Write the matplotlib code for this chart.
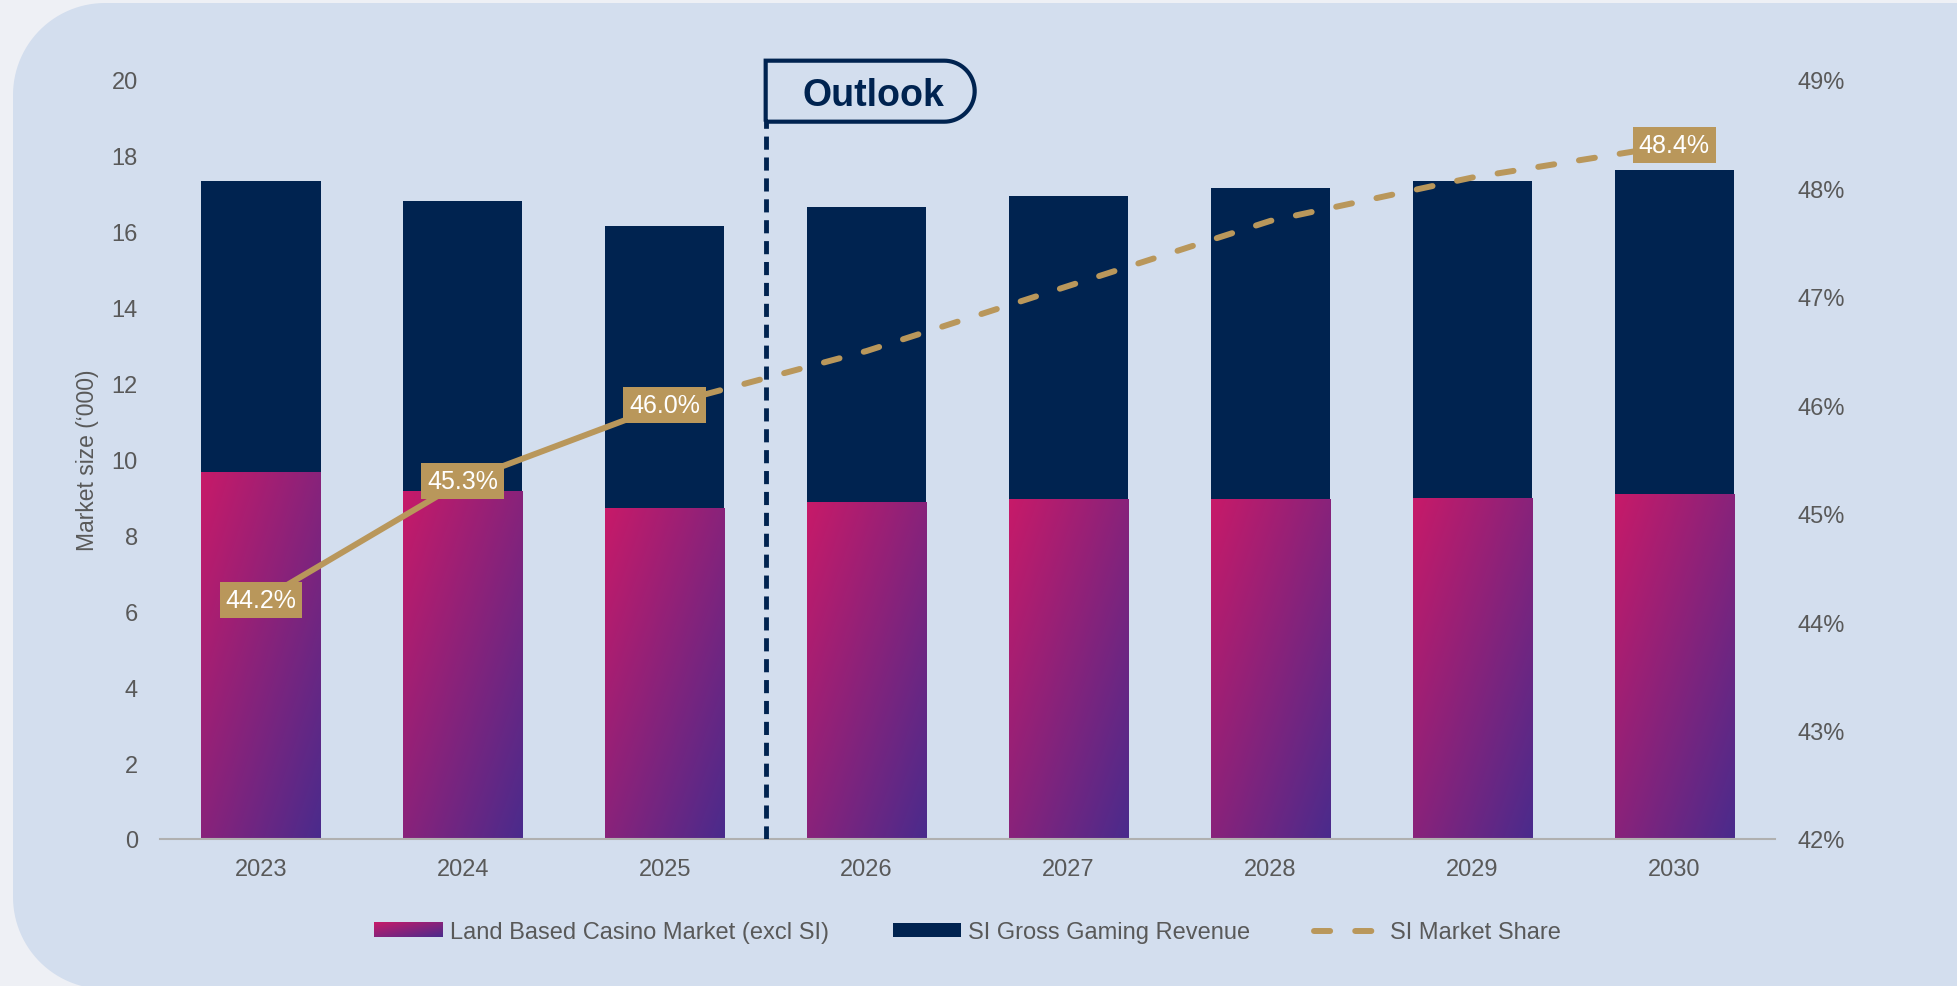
import numpy as np
import matplotlib
matplotlib.use("Agg")
import matplotlib.pyplot as plt
import matplotlib.patches as mpatches
from matplotlib.lines import Line2D
from matplotlib.path import Path
from matplotlib.colors import LinearSegmentedColormap
from matplotlib.image import BboxImage
from matplotlib.transforms import Bbox, TransformedBbox, IdentityTransform, ScaledTranslation
from matplotlib.legend_handler import HandlerBase

plt.rcParams['font.family'] = ['Liberation Sans', 'DejaVu Sans']

# data
years = ['2023', '2024', '2025', '2026', '2027', '2028', '2029', '2030']
land_based = [9.66, 9.18, 8.72, 8.88, 8.95, 8.95, 8.98, 9.08]
si_ggr = [7.68, 7.63, 7.43, 7.76, 7.99, 8.19, 8.36, 8.55]
si_share = [44.2, 45.3, 46.0, 46.5, 47.1, 47.7, 48.1, 48.4]
labelled = [0, 1, 2, 7]
n_actual = 3  # 2023-2025 actual, rest outlook

navy = '#002350'
gold = '#b9975b'
grey = '#595959'
panel = '#d3deee'
grad = LinearSegmentedColormap.from_list('grad', ['#c71a69', '#4a2b8c'])

# diagonal gradient: top-left -> bottom-right
gx, gy = np.meshgrid(np.linspace(0, 1, 64), np.linspace(0, 1, 256))
grad_img = grad(0.5 * gx + 0.5 * gy)

fig = plt.figure(figsize=(19.57, 9.87), dpi=100, facecolor='#eef0f5')


def rounded_left(x0, y0, x1, y1, rad):
    # rounded on the left side only (pixel coords)
    a1 = np.linspace(np.pi / 2, np.pi, 30)
    a2 = np.linspace(np.pi, 1.5 * np.pi, 30)
    v = [(x1, y1), (x0 + rad, y1)]
    v += [(x0 + rad + rad * np.cos(a), y1 - rad + rad * np.sin(a)) for a in a1]
    v += [(x0 + rad + rad * np.cos(a), y0 + rad + rad * np.sin(a)) for a in a2]
    v += [(x1, y0), (x1, y1)]
    return Path(v)


bg = mpatches.PathPatch(rounded_left(13, -3, 2300, 983, 92), transform=IdentityTransform(),
                        facecolor=panel, edgecolor='none', zorder=-10)
fig.patches.append(bg)

ax = fig.add_axes([0.0818, 0.149, 0.8252, 0.769])
ax.set_facecolor('none')
x = np.arange(len(years))
bars = ax.bar(x, land_based, width=0.59, color='none', zorder=2)
for b in bars:
    x0, w, h = b.get_x(), b.get_width(), b.get_height()
    im = ax.imshow(grad_img, extent=(x0, x0 + w, 0, h), aspect='auto', origin='upper',
                   interpolation='bilinear', zorder=2)
    im.set_clip_path(b)
ax.bar(x, si_ggr, bottom=land_based, width=0.59, color=navy, zorder=2)

ax.set_xlim(-0.5, len(years) - 0.5)
ax.set_ylim(0, 20)
ax.set_yticks(range(0, 21, 2))
ax.set_xticks(x, years)
for s in ['top', 'left', 'right']:
    ax.spines[s].set_visible(False)
ax.spines['bottom'].set_color('#b0b0b0')
ax.spines['bottom'].set_linewidth(1.5)
ax.tick_params(axis='both', length=0, labelsize=17, labelcolor=grey)
ax.tick_params(axis='y', pad=16)
ax.tick_params(axis='x', pad=14)
ax.set_ylabel("Market size (\u2018000)", fontsize=16.5, color=grey, labelpad=9)

# outlook marker
split = n_actual - 0.5
ax.plot([split, split], [0, 18.95], color=navy, lw=3.5, ls=(0, (2.7, 1.6)), zorder=3)
w_in, h_in = 2.09, 0.61
r = h_in / 2
ang = np.linspace(-np.pi / 2, np.pi / 2, 40)
verts = [(0, 0), (w_in - r, 0)] + [(w_in - r + r * np.cos(a), r + r * np.sin(a)) for a in ang] + [(0, h_in), (0, 0)]
flag_tr = fig.dpi_scale_trans + ScaledTranslation(split, 18.9, ax.transData)
flag = mpatches.PathPatch(Path(verts), transform=flag_tr, facecolor=panel, edgecolor=navy,
                          lw=3, clip_on=False, zorder=4)
ax.add_patch(flag)
ax.text(w_in / 2 + 0.03, h_in / 2 - 0.04, 'Outlook', transform=flag_tr, ha='center', va='center',
        fontsize=27, fontweight='bold', color=navy, zorder=5)

# market share line
ax2 = ax.twinx()
ax2.set_ylim(42, 49)
ax2.set_yticks(range(42, 50), [f'{v}%' for v in range(42, 50)])
for s in ax2.spines.values():
    s.set_visible(False)
ax2.tick_params(axis='y', length=0, labelsize=17, labelcolor=grey, pad=16)
dash = (0, (2.7, 4.2))
ax2.plot(x[:n_actual], si_share[:n_actual], color=gold, lw=4.3, solid_capstyle='round', zorder=3)
ax2.plot(x[n_actual - 1:], si_share[n_actual - 1:], color=gold, lw=4.3, ls=dash,
         dash_capstyle='round', zorder=3)
for i in labelled:
    ax2.text(x[i], si_share[i], f'{si_share[i]:.1f}%', ha='center', va='center', fontsize=18,
             color='white', zorder=5,
             bbox=dict(boxstyle='square,pad=0.24', facecolor=gold, edgecolor='none'))


class GradientHandler(HandlerBase):
    def create_artists(self, legend, orig_handle, xdescent, ydescent, width, height, fontsize, trans):
        bb = TransformedBbox(Bbox.from_bounds(-xdescent, -ydescent, width, height), trans)
        img = BboxImage(bb, interpolation='bilinear')
        img.set_data(grad_img)
        return [img]


h_land = mpatches.Patch(facecolor='#c71a69', label='Land Based Casino Market (excl SI)')
h_si = mpatches.Patch(facecolor=navy, label='SI Gross Gaming Revenue')
h_share = Line2D([], [], color=gold, lw=4.3, ls=dash, dash_capstyle='round', label='SI Market Share')
ax.legend(handles=[h_land, h_si, h_share], handler_map={h_land: GradientHandler()},
          loc='center', bbox_to_anchor=(0.5, -0.123), ncol=3, frameon=False, fontsize=17,
          labelcolor=grey, handlelength=2.9, handleheight=0.55, handletextpad=0.3,
          columnspacing=2.7)

fig.savefig('out.png', dpi=100, facecolor=fig.get_facecolor())
